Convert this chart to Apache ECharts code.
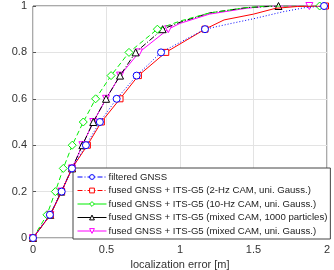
<!DOCTYPE html>
<html>
<head>
<meta charset="utf-8">
<script src="https://cdn.jsdelivr.net/npm/echarts@6/dist/echarts.min.js"></script>
<style>
html, body { margin: 0; padding: 0; background: #fff; }
#main { width: 334px; height: 270px; }
</style>
</head>
<body>
<div id="main"></div>
<script>
// CDF levels where markers are drawn
var levels = [0, 0.1, 0.2, 0.3, 0.4, 0.5, 0.6, 0.7, 0.8, 0.9, 1.0];

// error [m] at each level
var gnss     = [0, 0.115, 0.195, 0.265, 0.36, 0.455, 0.569, 0.705, 0.871, 1.17, 1.98];
var cam2Hz   = [0, 0.118, 0.195, 0.265, 0.37, 0.465, 0.592, 0.717, 0.903, 1.17, 1.99];
var cam10Hz  = [0, 0.095, 0.152, 0.206, 0.267, 0.342, 0.426, 0.531, 0.653, 0.846, 1.95];
var mixedPf  = [0, 0.118, 0.192, 0.266, 0.336, 0.41, 0.497, 0.592, 0.698, 0.882, 1.67];
var mixedGau = [0, 0.118, 0.192, 0.266, 0.336, 0.41, 0.497, 0.592, 0.721, 0.92, 1.88];

// upper tail of each curve between the 0.9 and 1.0 markers: [error, cdf]
var gnssTail     = [[1.35, 0.925], [1.5, 0.945], [1.7, 0.975], [1.85, 0.993]];
var cam2HzTail   = [[1.3, 0.94], [1.5, 0.965], [1.65, 0.99], [1.8, 0.998]];
var cam10HzTail  = [[1.0, 0.935], [1.2, 0.97], [1.45, 0.993], [1.6, 1.0]];
var mixedPfTail  = [[1.0, 0.93], [1.2, 0.97], [1.45, 0.993]];
var mixedGauTail = [[1.0, 0.925], [1.2, 0.965], [1.45, 0.99], [1.6, 1.0]];

var names = [
  'filtered GNSS',
  'fused GNSS + ITS-G5 (2-Hz CAM, uni. Gauss.)',
  'fused GNSS + ITS-G5 (10-Hz CAM, uni. Gauss.)',
  'fused GNSS + ITS-G5 (mixed CAM, 1000 particles)',
  'fused GNSS + ITS-G5 (mixed CAM, uni. Gauss.)'
];

function build(xs, tail) {
  var d = [];
  for (var i = 0; i < xs.length; i++) {
    if (i === xs.length - 1) {
      tail.forEach(function (p) { d.push({ value: p, symbol: 'none' }); });
    }
    d.push({ value: [xs[i], levels[i]] });
  }
  return d;
}

function serie(i, xs, tail, color, symbol, dash, size) {
  return {
    name: names[i],
    type: 'line',
    data: build(xs, tail),
    symbol: symbol,
    symbolSize: size || 7,
    showAllSymbol: true,
    z: 10 - i,
    lineStyle: { color: color, width: 1, type: dash },
    itemStyle: { color: '#fff', borderColor: color, borderWidth: 1 },
    emphasis: { disabled: true }
  };
}

var tri = 'path://M5,0 L10,9 L0,9 Z';
var triDown = 'path://M0,0 L10,0 L5,9 Z';
var dashDot = [5, 2, 1, 2];

var myChart = echarts.init(document.getElementById('main'));
var option = {
  animation: false,
  textStyle: { fontFamily: 'Liberation Sans, Arial, sans-serif' },
  grid: {
    left: 33, right: 7, top: 6, bottom: 32,
    outerBoundsMode: 'none', containLabel: false,
    show: true, borderColor: '#555', borderWidth: 1, backgroundColor: '#fff'
  },
  legend: {
    orient: 'vertical',
    left: 73, top: 168,
    padding: [4, 3, 3, 4],
    itemWidth: 29, itemHeight: 6, itemGap: 3.5,
    backgroundColor: '#fff',
    borderColor: '#444', borderWidth: 1,
    itemStyle: { borderWidth: 1 },
    textStyle: { fontSize: 9.6, color: '#222', padding: [0, 0, 0, -3] },
    data: [
      { name: names[0], lineStyle: { type: dashDot, width: 1 } },
      { name: names[1], lineStyle: { type: dashDot, width: 1 } },
      { name: names[2], lineStyle: { type: 'solid', width: 1 } },
      { name: names[3], lineStyle: { type: 'solid', width: 1 } },
      { name: names[4], lineStyle: { type: 'solid', width: 1 } }
    ]
  },
  xAxis: {
    type: 'value', min: 0, max: 2, interval: 0.5,
    name: 'localization error [m]', nameLocation: 'middle', nameGap: 19,
    nameTextStyle: { fontSize: 11, color: '#333' },
    axisLine: { show: false },
    axisTick: { show: true, inside: true, length: 3, lineStyle: { color: '#555' } },
    axisLabel: { fontSize: 11, color: '#333', margin: 6 },
    splitLine: { lineStyle: { color: '#e3e3e3' } }
  },
  yAxis: {
    type: 'value', min: 0, max: 1, interval: 0.2,
    name: 'empirical CDF(error)', nameLocation: 'middle', nameGap: 22,
    nameTextStyle: { fontSize: 11, color: '#333' },
    axisLine: { show: false },
    axisTick: { show: true, inside: true, length: 3, lineStyle: { color: '#555' } },
    axisLabel: { fontSize: 11, color: '#333', margin: 6,
      formatter: function (v) { return String(Math.round(v * 10) / 10); } },
    splitLine: { lineStyle: { color: '#e3e3e3' } }
  },
  series: [
    serie(0, gnss, gnssTail, '#0000ff', 'circle', [1, 2], 7),
    serie(1, cam2Hz, cam2HzTail, '#ff0000', 'rect', 'solid', 6),
    serie(2, cam10Hz, cam10HzTail, '#00ee00', 'diamond', [5, 3], 8),
    serie(3, mixedPf, mixedPfTail, '#000000', tri, [6, 2, 1, 2], 7),
    serie(4, mixedGau, mixedGauTail, '#ff00ff', triDown, 'solid', 7)
  ]
};
myChart.setOption(option);

window.onresize = function () {
  myChart.resize();
};
</script>
</body>
</html>
